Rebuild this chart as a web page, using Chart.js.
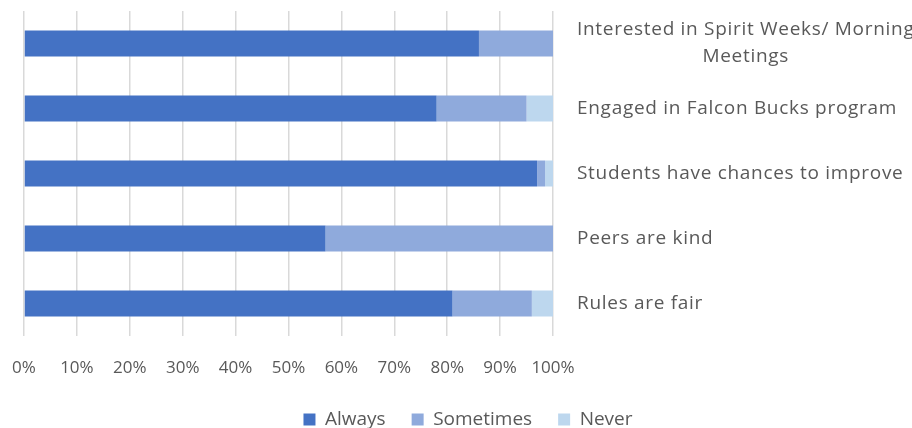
<!DOCTYPE html>
<html lang="en">
<head>
  <meta charset="UTF-8" />
  <title>School Climate Survey</title>
  <script src="https://cdn.jsdelivr.net/npm/chart.js"></script>
  <style>
    html, body { margin: 0; padding: 0; background: #fff; overflow: hidden; }
    #wrap { width: 912px; height: 428px; position: relative; }
  </style>
</head>
<body>
  <div id="wrap"><canvas id="grafica"></canvas></div>

  <script>
    // category labels (the first one wraps over two lines)
    const categorias = [
      ['Interested in Spirit Weeks/ Morning', 'Meetings'],
      ['Engaged in Falcon Bucks program'],
      ['Students have chances to improve'],
      ['Peers are kind'],
      ['Rules are fair']
    ];
    const always = [86, 78, 97, 57, 81];
    const sometimes = [14, 17, 1.5, 43, 15];
    const never = [0, 5, 1.5, 0, 4];
    const ticksX = [0, 10, 20, 30, 40, 50, 60, 70, 80, 90, 100];

    const gris = '#595959';
    const fuente = 'Open Sans';

    // right-hand category labels, drawn next to each bar
    const etiquetasDerecha = {
      id: 'etiquetasDerecha',
      afterDraw(chart) {
        const ctx = chart.ctx;
        const y = chart.scales.y;
        const x0 = chart.chartArea.right + 24;
        ctx.save();
        ctx.fillStyle = gris;
        ctx.font = '19px "' + fuente + '"';
        ctx.letterSpacing = '0.7px';
        ctx.textBaseline = 'middle';
        categorias.forEach((lineas, i) => {
          const cy = y.getPixelForValue(i);
          const alto = 27;
          const ancho = ctx.measureText(lineas[0]).width;
          lineas.forEach((t, j) => {
            const ty = cy + (j - (lineas.length - 1) / 2) * alto;
            if (j === 0) {
              ctx.textAlign = 'left';
              ctx.fillText(t, x0, ty);
            } else {
              ctx.textAlign = 'center';
              ctx.fillText(t, x0 + ancho / 2, ty);
            }
          });
        });
        ctx.restore();
      }
    };

    new Chart(document.getElementById('grafica'), {
      type: 'bar',
      data: {
        labels: categorias.map(l => l.join(' ')),
        datasets: [
          { label: 'Always', data: always, backgroundColor: '#4472C4' },
          { label: 'Sometimes', data: sometimes, backgroundColor: '#8FAADC' },
          { label: 'Never', data: never, backgroundColor: '#BDD7EE' }
        ]
      },
      options: {
        indexAxis: 'y',
        responsive: true,
        maintainAspectRatio: false,
        animation: false,
        layout: { padding: { top: 11, left: 24, right: 0, bottom: -11 } },
        datasets: { bar: { barPercentage: 1, categoryPercentage: 0.4 } },
        scales: {
          x: {
            stacked: true,
            min: 0,
            max: 100,
            afterBuildTicks: s => { s.ticks = ticksX.map(v => ({ value: v })); },
            ticks: {
              color: gris,
              font: { family: fuente, size: 17 },
              padding: 22,
              maxRotation: 0,
              callback: v => v + '%'
            },
            grid: { color: '#d9d9d9', lineWidth: 1.5, drawTicks: false },
            border: { display: false },
            afterFit: s => {
              s.height = 48;
              s.paddingLeft = 0;
              s.paddingRight = 0;
            }
          },
          y: {
            stacked: true,
            position: 'right',
            ticks: { display: false },
            grid: { display: false },
            border: { display: false },
            afterFit: s => { s.width = 359; }
          }
        },
        plugins: {
          tooltip: { enabled: false },
          legend: {
            position: 'bottom',
            labels: {
              color: gris,
              font: { family: fuente, size: 19 },
              boxWidth: 12,
              boxHeight: 12,
              padding: 26
            }
          }
        }
      },
      plugins: [etiquetasDerecha]
    });
  </script>
</body>
</html>
